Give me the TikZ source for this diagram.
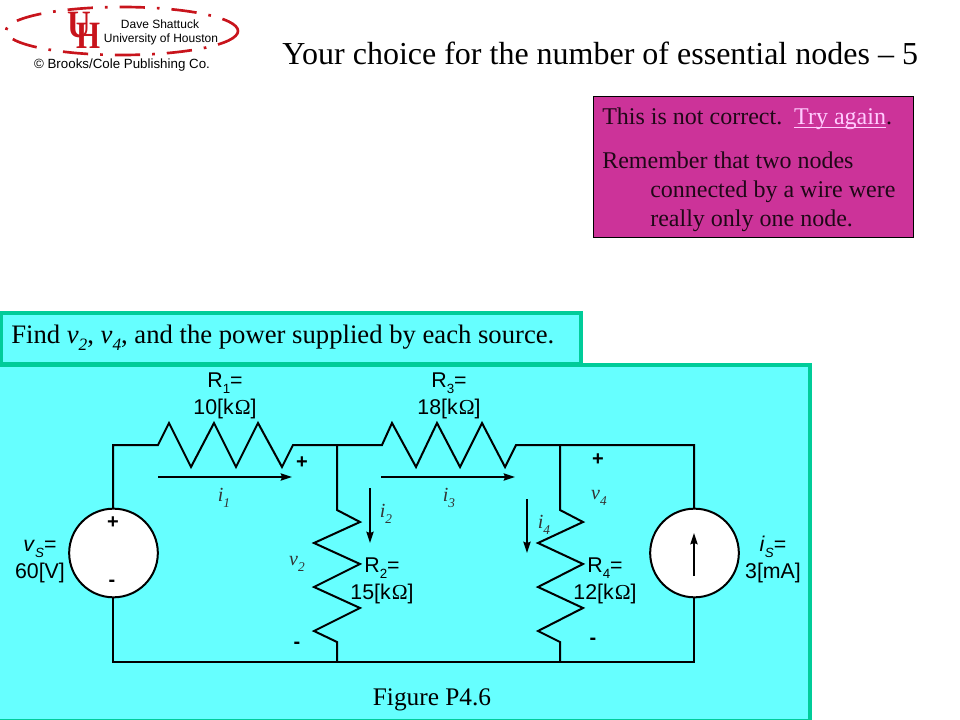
\documentclass[tikz,border=0pt]{standalone}
\usepackage{fontspec}
\setmainfont{Liberation Serif}
\newfontfamily\arialfont{Liberation Sans}
\usetikzlibrary{arrows.meta}
\definecolor{panelcyan}{HTML}{66FFFF}
\definecolor{panelteal}{HTML}{00CC99}
\definecolor{boxpink}{HTML}{CC3399}
\definecolor{linkpink}{HTML}{FFCCFF}
\definecolor{logored}{HTML}{C8141C}
\newcommand{\subs}[1]{\smash{\raisebox{-0.3em}{\fontsize{10}{10}\selectfont\itshape #1}}}
\newcommand{\subn}[1]{\smash{\raisebox{-0.3em}{\fontsize{10}{10}\selectfont #1}}}
\newcommand{\subf}[1]{\smash{\raisebox{-0.25em}{\fontsize{13}{13}\selectfont\itshape #1}}}
\newcommand{\ohm}{\kern0.05em{\rmfamily Ω}}
\tikzset{
  wire/.style={line width=1.5pt,black},
  meter/.style={->,line width=1.1pt,>={Stealth[length=8.5pt,width=5.5pt,inset=1pt]}},
  srcnode/.style={circle,draw,line width=1.5pt,fill=white,minimum size=66.5pt,inner sep=0pt},
  vallabel/.style={font=\arialfont\fontsize{16}{20}\selectfont,align=center,inner sep=0pt,anchor=base},
  symlabel/.style={font=\arialfont\bfseries\fontsize{15}{15}\selectfont,inner sep=0pt},
  curlabel/.style={font=\itshape\fontsize{15}{15}\selectfont,inner sep=0pt,text=black!80},
  anstext/.style={anchor=base west,inner sep=0pt,font=\fontsize{18}{18}\selectfont,text=black!85!boxpink},
  panel/.style={draw=panelteal,line width=3pt,fill=panelcyan},
}
\begin{document}
\begin{tikzpicture}[x=0.75pt,y=-0.75pt]
\useasboundingbox (0,0) rectangle (960,720);

% logo
\draw[logored,line width=2pt,dash pattern=on 19pt off 9pt on 2pt off 9pt] (122,31) ellipse (116 and 24);
\node[text=logored,inner sep=0pt,font=\bfseries\fontsize{29}{29}\selectfont,xscale=0.85] (logou) at (79,25) {U};
\node[text=logored,inner sep=0pt,font=\bfseries\fontsize{29}{29}\selectfont,xscale=0.8] (logoh) at (88.5,36) {H};
\node[inner sep=0pt,font=\arialfont\fontsize{9}{9}\selectfont] (logoa) at (160,24) {Dave Shattuck};
\node[inner sep=0pt,font=\arialfont\fontsize{9}{9}\selectfont] (logob) at (161,39) {University of Houston};
\node[inner sep=0pt,font=\arialfont\fontsize{10}{10}\selectfont] (logoc) at (122,65) {\textcopyright\ Brooks/Cole Publishing Co.};

% title
\node[anchor=base west,inner sep=0pt,font=\fontsize{24}{24}\selectfont] (title) at (282,64.5) {Your choice for the number of essential nodes -- 5};

% answer box
\node[draw=black,fill=boxpink,line width=0.8pt,minimum width=240pt,minimum height=106pt,anchor=north west,inner sep=0pt] (answer) at (592.5,96) {};
\node[anstext] (ansa) at (602,125) {This is not correct.\ \ \textcolor{linkpink}{\underline{\smash{Try again}}}.};
\node[anstext] (ansb) at (602,169) {Remember that two nodes};
\node[anstext] (ansc) at (650,198) {connected by a wire were};
\node[anstext] (ansd) at (650,227) {really only one node.};

% problem and panel
\draw[panel] (-5,365) rectangle (810,720.5);
\draw[panel] (1,312.5) rectangle (581,364);
\node[anchor=base west,inner sep=0pt,font=\fontsize{20}{20}\selectfont] (find) at (11,344) {Find \textit{v}\subf{2}, \textit{v}\subf{4}, and the power supplied by each source.};

% junctions
\coordinate (TL) at (113,445);
\coordinate (BL) at (113,662);
\coordinate (NA) at (337,445);
\coordinate (NB) at (560,445);
\coordinate (TR) at (694,445);
\coordinate (BR) at (694,662);
\coordinate (GA) at (337,662);
\coordinate (GB) at (560,662);

% wires
\draw[wire] (113,553) -- (TL) -- (158,445)
  -- (169,423) -- (191,467) -- (214,423) -- (236,467) -- (258,423) -- (282,467) -- (293,445)
  -- (NA) -- (382,445)
  -- (392,423) -- (416,467) -- (437,423) -- (460,467) -- (482,423) -- (505,467) -- (516,445)
  -- (NB) -- (TR) -- (694,553);
\draw[wire] (113,553) -- (BL) -- (GA) -- (GB) -- (BR) -- (694,553);
\draw[wire] (NA) -- (337,510) -- (360,522) -- (314,543) -- (360,564) -- (314,587) -- (360,608) -- (314,631) -- (337,642) -- (GA);
\draw[wire] (NB) -- (560,510) -- (583,522) -- (538,543) -- (583,564) -- (538,587) -- (583,608) -- (538,631) -- (560,642) -- (GB);

% sources
\node[srcnode] (vs) at (113.5,553) {};
\node[srcnode] (is) at (694.5,553) {};
\coordinate (ISa) at (694,576);
\coordinate (ISb) at (694,533);
\draw[meter] (ISa) -- (ISb);

% current arrows
\coordinate (Ia) at (158,477);
\coordinate (Ib) at (292,477);
\coordinate (Ic) at (381,477);
\coordinate (Id) at (515,477);
\coordinate (Ie) at (370,488);
\coordinate (If) at (370,543);
\coordinate (Ig) at (527,499);
\coordinate (Ih) at (527,553);
\draw[meter] (Ia) -- (Ib);
\draw[meter] (Ic) -- (Id);
\draw[meter] (Ie) -- (If);
\draw[meter] (Ig) -- (Ih);

% labels
\node[vallabel] (rone) at (225,414) {R\subn{1}=\\10[k\ohm]};
\node[vallabel] (rtwo) at (382,599) {R\subn{2}=\\15[k\ohm]};
\node[vallabel] (rthree) at (449,414) {R\subn{3}=\\18[k\ohm]};
\node[vallabel] (rfour) at (605,599) {R\subn{4}=\\12[k\ohm]};
\node[vallabel] (vsl) at (40,578) {\textit{v}\subs{S}=\\60[V]};
\node[vallabel] (isl) at (773,578) {\textit{i}\subs{S}=\\3[mA]};

\node[curlabel] (ione) at (224,495) {\textit{i}\subs{1}};
\node[curlabel] (itwo) at (386,511) {\textit{i}\subs{2}};
\node[curlabel] (ithree) at (449,495) {\textit{i}\subs{3}};
\node[curlabel] (ifour) at (544,522) {\textit{i}\subs{4}};
\node[curlabel] (vtwo) at (297,561) {\textit{v}\subs{2}};
\node[curlabel] (vfour) at (599,495) {\textit{v}\subs{4}};

\node[symlabel] (pa) at (302,463) {+};
\node[symlabel] (pb) at (598,460) {+};
\node[symlabel] (pc) at (113,523) {+};
\node[symlabel] (ma) at (297,645) {-};
\node[symlabel] (mb) at (593,641) {-};
\node[symlabel] (mc) at (112,583) {-};

\node[anchor=base,inner sep=0pt,font=\fontsize{19}{19}\selectfont] (figp) at (432,705) {Figure P4.6};
\end{tikzpicture}
\end{document}
